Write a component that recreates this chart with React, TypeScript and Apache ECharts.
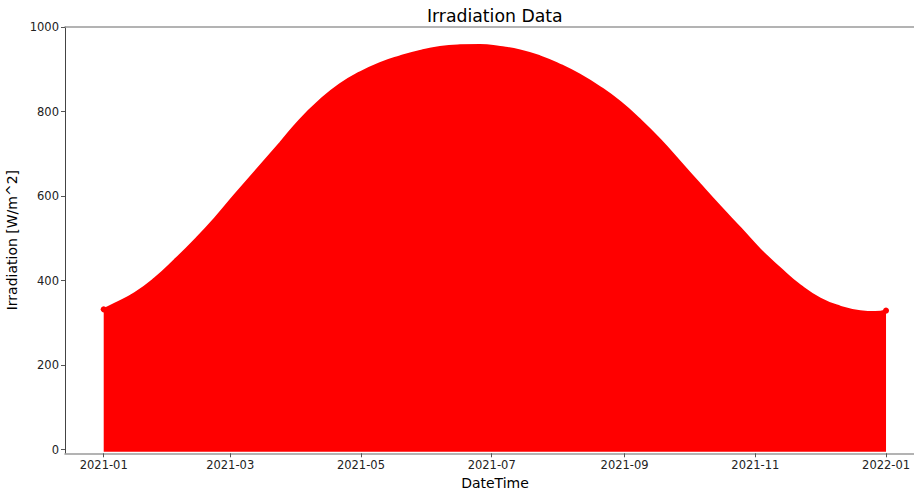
import React, { useEffect, useRef } from 'react';
import * as echarts from 'echarts';

// Daily peak envelope of the hourly irradiation series
const dates = [
  '2021-01-01T00:00:00', '2021-01-06T07:00:00', '2021-01-15T14:00:00', '2021-01-24T22:00:00',
  '2021-02-03T07:00:00', '2021-02-12T14:00:00', '2021-02-21T22:00:00', '2021-03-03T07:00:00',
  '2021-03-24T07:00:00', '2021-04-02T14:00:00', '2021-04-11T22:00:00', '2021-04-21T05:00:00',
  '2021-04-30T14:00:00', '2021-05-09T22:00:00', '2021-05-19T05:00:00', '2021-05-28T14:00:00',
  '2021-06-06T22:00:00', '2021-06-16T05:00:00', '2021-06-25T14:00:00', '2021-07-04T22:00:00',
  '2021-07-14T05:00:00', '2021-07-23T12:00:00', '2021-08-01T22:00:00', '2021-08-11T05:00:00',
  '2021-08-20T12:00:00', '2021-08-29T22:00:00', '2021-09-08T05:00:00', '2021-09-17T12:00:00',
  '2021-09-26T22:00:00', '2021-10-06T05:00:00', '2021-10-15T12:00:00', '2021-10-24T22:00:00',
  '2021-11-03T05:00:00', '2021-11-12T12:00:00', '2021-11-21T22:00:00', '2021-12-01T05:00:00',
  '2021-12-10T12:00:00', '2021-12-19T22:00:00', '2021-12-26T22:00:00', '2021-12-31T23:00:00',
];
const irradiation = [
  332, 345, 370, 405,
  449, 496, 547, 603,
  725, 780, 826, 864,
  892, 914, 930, 943,
  952, 956, 957, 952,
  944, 930, 910, 886,
  857, 822, 780, 733,
  680, 627, 575, 524,
  473, 429, 388, 357,
  338, 327, 325, 329,
];
const xTickMonths = ['2021-01', '2021-03', '2021-05', '2021-07', '2021-09', '2021-11', '2022-01'];
const yTicks = [0, 200, 400, 600, 800, 1000];

const DAY = 86400000;

export default function App() {
  const ref = useRef<HTMLDivElement>(null);
  useEffect(() => {
    if (!ref.current) return;
    const chart = echarts.init(ref.current, null, { renderer: 'svg' });
    const toTs = (s: string) => new Date(s).getTime();
    const jan1 = toTs('2021-01-01T00:00:00');
    const xMin = jan1 - 18.06 * DAY;
    const xMax = jan1 + 383.14 * DAY;
    const xTickVals = xTickMonths.map((m) => toTs(m + '-01T00:00:00'));
    const font = 'DejaVu Sans';
    const pad = (n: number) => (n < 10 ? '0' + n : '' + n);
    const last = dates.length - 1;
    const seriesData = dates.map((d, i) => {
      const item: any = { value: [toTs(d), irradiation[i]] };
      if (i === 0 || i === last) {
        item.symbol = 'circle';
        item.symbolSize = 6;
      }
      return item;
    });
    chart.setOption({
      animation: false,
      backgroundColor: '#ffffff',
      textStyle: { fontFamily: font },
      graphic: [
        {
          type: 'text',
          x: 494.8,
          y: 16,
          style: {
            text: 'Irradiation Data',
            fontFamily: font,
            fontSize: 17.3,
            fill: '#000',
            textAlign: 'center',
            textVerticalAlign: 'middle',
          },
        },
      ],
      grid: { left: 65, right: -11, top: 27, bottom: 35.7, containLabel: false, outerBoundsMode: 'none' },
      xAxis: [
        {
          type: 'value',
          min: xMin,
          max: xMax,
          name: 'DateTime',
          nameLocation: 'middle',
          nameGap: 17,
          nameTextStyle: { fontFamily: font, fontSize: 14, lineHeight: 14, color: '#000' },
          axisLine: { show: true, onZero: false, lineStyle: { color: '#9a9a9a', width: 1.6 } },
          axisTick: { show: true, customValues: xTickVals, length: 4, lineStyle: { color: '#555', width: 1 } },
          axisLabel: {
            customValues: xTickVals,
            margin: 6,
            fontFamily: font,
            fontSize: 11.5,
            color: '#222',
            formatter: (v: number) => {
              const d = new Date(v);
              return d.getFullYear() + '-' + pad(d.getMonth() + 1);
            },
          },
          splitLine: { show: false },
        },
        {
          type: 'value',
          position: 'top',
          min: xMin,
          max: xMax,
          axisLine: { show: true, onZero: false, lineStyle: { color: '#9a9a9a', width: 1.6 } },
          axisTick: { show: false },
          axisLabel: { show: false },
          splitLine: { show: false },
        },
      ],
      yAxis: {
        type: 'value',
        min: -8.5,
        max: 1000,
        name: 'Irradiation [W/m^2]',
        nameLocation: 'middle',
        nameGap: 39,
        nameTextStyle: { fontFamily: font, fontSize: 14, color: '#000' },
        axisLine: { show: true, onZero: false, lineStyle: { color: '#444', width: 1 } },
        axisTick: { show: true, customValues: yTicks, length: 4, lineStyle: { color: '#555', width: 1 } },
        axisLabel: {
          customValues: yTicks,
          margin: 6,
          fontFamily: font,
          fontSize: 11.5,
          color: '#222',
          formatter: (v: number) => String(v),
        },
        splitLine: { show: false },
      },
      series: [
        {
          type: 'line',
          xAxisIndex: 0,
          data: seriesData,
          smooth: 0.5,
          showSymbol: true,
          symbol: 'none',
          itemStyle: { color: '#ff0000' },
          lineStyle: { color: '#ff0000', width: 2.5, cap: 'round' },
          areaStyle: { color: '#ff0000', opacity: 1, origin: -5 },
          clip: false,
        },
      ],
    });
    return () => chart.dispose();
  }, []);
  return <div ref={ref} style={{ position: 'fixed', left: 0, top: 0, width: 914, height: 489 }} />;
}
